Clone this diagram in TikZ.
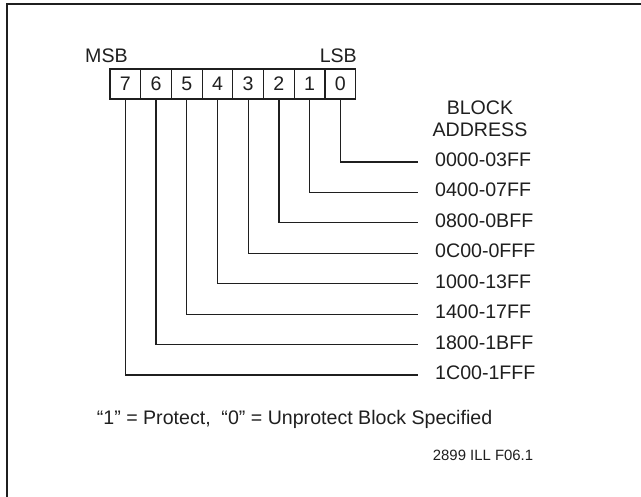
\documentclass[tikz,border=0pt]{standalone}
\usepackage{fontspec}
\setmainfont{Liberation Sans}
\definecolor{ink}{gray}{0.12}
\begin{document}
\begin{tikzpicture}[x=1pt,y=-1pt,
  cell/.style={draw=ink, line width=1.1pt, minimum width=30.71pt, minimum height=30pt, inner sep=0pt, text=ink, font=\fontsize{19.6}{21.7}\selectfont},
  lbl/.style={inner sep=0pt, text=ink, font=\fontsize{19.6}{21.7}\selectfont},
  small/.style={inner sep=0pt, text=ink, font=\fontsize{14.9}{17}\selectfont},
  wire/.style={draw=ink, line width=1.2pt},
  frame/.style={draw=ink, line width=2pt}]
\useasboundingbox (0,0) rectangle (641,497);
\draw[frame] (7,497) -- (7,4) -- (641,4);
\node[lbl, anchor=base west] (msb) at (85,62.7) {MSB};
\node[lbl, anchor=base east] (lsb) at (357,62.7) {LSB};
\foreach \i in {0,...,7} {
  \node[cell] (b\i) at ({110+(7-\i+0.5)*30.71}, 84) {\i};
}
\node[lbl, anchor=base] (blk) at (480,115) {BLOCK};
\node[lbl, anchor=base] (adr) at (480,136.7) {ADDRESS};
\foreach \i/\t in {0/0000-03FF, 1/0400-07FF, 2/0800-0BFF, 3/0C00-0FFF, 4/1000-13FF, 5/1400-17FF, 6/1800-1BFF, 7/1C00-1FFF} {
  \node[lbl, anchor=base west] (a\i) at (435, {162+\i*30.43+4.5}) {\t};
  \coordinate (e\i) at (418, {162+\i*30.43});
  \draw[wire] (b\i.south) |- (e\i);
}
\node[lbl, anchor=base west] (note) at (96.7,425) {“1” = Protect,\hspace{0.55em}“0” = Unprotect Block Specified};
\node[small, anchor=base west] (fig) at (432.7,461) {2899 ILL F06.1};
\end{tikzpicture}
\end{document}
